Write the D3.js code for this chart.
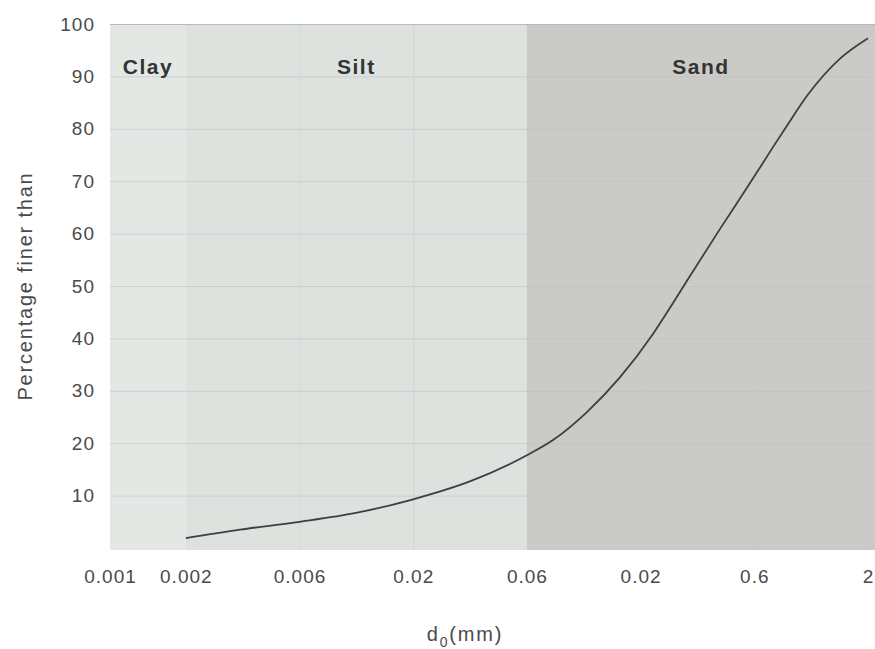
<!DOCTYPE html>
<html>
<head>
<meta charset="utf-8">
<script src="https://cdn.jsdelivr.net/npm/d3@7"></script>
<style>
    body { margin: 0; background: #fff; }
    svg { display: block; font-family: "Liberation Sans", Arial, sans-serif; }
    .tick-label { fill: #4a4a4a; font-size: 19px; letter-spacing: 1px; }
    .zone-label { fill: #333; font-size: 21px; font-weight: bold; letter-spacing: 1.5px; }
    .axis-title { fill: #4a4a4a; font-size: 20px; letter-spacing: 1.8px; }
</style>
</head>
<body>
<div id="chart"></div>
<script>
// grain size ticks (mm) and the labels printed under them
const sizeTicks = [0.001, 0.002, 0.006, 0.02, 0.06, 0.2, 0.6, 2];
const sizeLabels = ["0.001", "0.002", "0.006", "0.02", "0.06", "0.02", "0.6", "2"];
const percentTicks = [10, 20, 30, 40, 50, 60, 70, 80, 90, 100];

// soil classes and their grain size limits
const zoneNames = ["Clay", "Silt", "Sand"];
const zoneFrom = [0.001, 0.002, 0.06];
const zoneTo = [0.002, 0.06, 2];

// grading curve: diameter (mm) vs percentage finer than
const curveSize = [0.002, 0.00338, 0.006, 0.0109, 0.02, 0.035, 0.06, 0.0791, 0.113, 0.161,
    0.225, 0.274, 0.313, 0.431, 0.592, 0.731, 0.848, 1.049, 1.487, 2];
const curvePercent = [1.9, 3.5, 5.0, 6.7, 9.3, 12.8, 17.7, 20.6, 25.9, 32.6,
    40.8, 46.8, 51.0, 60.9, 70.5, 76.5, 80.6, 86.3, 93.4, 97.3];

const Config = {
    width: 875,
    height: 649,
    left: 110,
    right: 868,
    plotRight: 875,
    top: 24,
    bottom: 548,
    zoneColors: ["#e3e8e4", "#dde2de", "#cacbc6"]
};

let svg = d3.select("#chart").append("svg")
    .attr("width", Config.width)
    .attr("height", Config.height);

// axis is not a true log scale: first gap is short, the rest are equal
let w = Config.right - Config.left;
let x = d3.scaleLog()
    .domain(sizeTicks)
    .range(sizeTicks.map((d, i) => Config.left + (i === 0 ? 0 : w * (0.1 + (i - 1) * 0.15))));

let y = d3.scaleLinear()
    .domain([0, 100])
    .range([Config.bottom, Config.top]);

let zones = zoneNames.map((name, i) => ({name: name, from: zoneFrom[i], to: zoneTo[i]}));
let zoneRight = (d, i) => i === zones.length - 1 ? Config.plotRight : x(d.to);

svg.append("g").attr("id", "zones")
    .selectAll("rect")
    .data(zones)
    .enter().append("rect")
    .attr("x", d => x(d.from))
    .attr("y", Config.top)
    .attr("width", (d, i) => zoneRight(d, i) - x(d.from))
    .attr("height", Config.bottom + 2 - Config.top)
    .attr("fill", (d, i) => Config.zoneColors[i]);

// faint grid
let grid = svg.append("g").attr("id", "grid");
grid.selectAll(".hline")
    .data(percentTicks.filter(d => d < 100))
    .enter().append("line")
    .attr("class", "hline")
    .attr("x1", Config.left).attr("x2", Config.plotRight)
    .attr("y1", d => y(d) + 0.5).attr("y2", d => y(d) + 0.5)
    .attr("stroke", "#b9c1bd")
    .attr("stroke-opacity", 0.55);
grid.selectAll(".vline")
    .data(sizeTicks.slice(2))
    .enter().append("line")
    .attr("class", "vline")
    .attr("x1", d => x(d) + 0.5).attr("x2", d => x(d) + 0.5)
    .attr("y1", Config.top).attr("y2", Config.bottom + 2)
    .attr("stroke", "#c4cbc8")
    .attr("stroke-opacity", 0.45);
grid.append("line")
    .attr("x1", Config.left).attr("x2", Config.plotRight)
    .attr("y1", Config.top + 0.5).attr("y2", Config.top + 0.5)
    .attr("stroke", "#b8bbb7");

svg.append("g").attr("id", "zone-labels")
    .selectAll("text")
    .data(zones)
    .enter().append("text")
    .attr("class", "zone-label")
    .attr("x", (d, i) => (zoneRight(d, i) + x(d.from)) / 2)
    .attr("y", y(90) - 2)
    .attr("text-anchor", "middle")
    .text(d => d.name);

// axes, drawn with d3 then stripped to labels only
let xAxis = svg.append("g")
    .attr("transform", `translate(0,${Config.bottom + 2})`)
    .call(d3.axisBottom(x).tickValues(sizeTicks).tickSize(0).tickPadding(20)
        .tickFormat((d, i) => sizeLabels[i]));
xAxis.select(".domain").remove();
xAxis.selectAll("text").attr("class", "tick-label").attr("fill", null);

let yAxis = svg.append("g")
    .attr("transform", `translate(${Config.left},0)`)
    .call(d3.axisLeft(y).tickValues(percentTicks).tickSize(0).tickPadding(15));
yAxis.select(".domain").remove();
yAxis.selectAll("text").attr("class", "tick-label").attr("fill", null);
xAxis.attr("font-size", null).attr("font-family", null);
yAxis.attr("font-size", null).attr("font-family", null);

// grading curve
let points = curveSize.map((d, i) => [d, curvePercent[i]]);
let line = d3.line()
    .x(d => x(d[0]))
    .y(d => y(d[1]))
    .curve(d3.curveMonotoneX);
svg.append("path")
    .datum(points)
    .attr("d", line)
    .attr("fill", "none")
    .attr("stroke", "#3f3f3f")
    .attr("stroke-width", 1.8);

// titles
svg.append("text")
    .attr("class", "axis-title")
    .attr("transform", `translate(32,${(Config.top + Config.bottom) / 2}) rotate(-90)`)
    .attr("text-anchor", "middle")
    .text("Percentage finer than");

let xt = svg.append("text")
    .attr("class", "axis-title")
    .attr("x", 465)
    .attr("y", 641)
    .attr("text-anchor", "middle");
xt.append("tspan").text("d");
xt.append("tspan").attr("dy", 6).style("font-size", "14px").text("0");
xt.append("tspan").attr("dy", -6).text("(mm)");
</script>
</body>
</html>
